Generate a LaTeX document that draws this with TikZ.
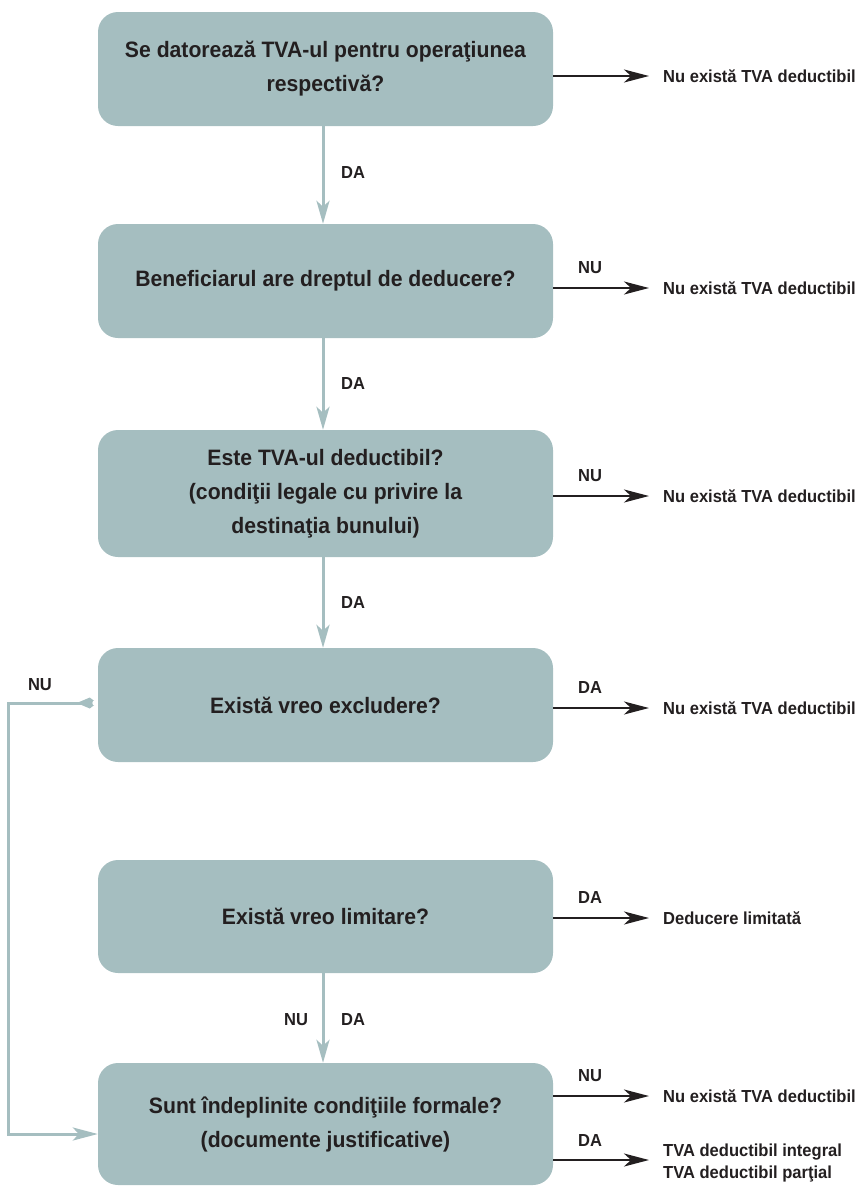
\documentclass[tikz,border=0pt]{standalone}
\usepackage{fontspec}
\setmainfont{Liberation Sans}[FakeStretch=0.95]
\usetikzlibrary{arrows.meta}
\definecolor{boxgray}{HTML}{A5BEC0}
\definecolor{ink}{HTML}{231F20}
\tikzset{
  qbox/.style={fill=boxgray, rounded corners=20pt, minimum width=455pt, inner sep=0pt, align=center, text=ink, font=\bfseries\fontsize{22.3}{34}\selectfont},
  outtxt/.style={anchor=west, inner sep=0pt, text=ink, align=left, font=\bfseries\fontsize{17.4}{22}\selectfont},
  lbl/.style={inner sep=0pt, text=ink, font=\bfseries\fontsize{17.4}{18}\selectfont},
  grayarrow/.style={draw=boxgray, line width=3pt, -{Stealth[length=23pt,width=13pt,inset=6pt]}},
  blackarrow/.style={draw=ink, line width=2.2pt, -{Stealth[length=25pt,width=13pt,inset=7pt]}},
}
\begin{document}
\begin{tikzpicture}[x=1pt,y=-1pt]
\useasboundingbox (0,0) rectangle (857,1189);
% boxes
\node[qbox, minimum height=114pt] (b1) at (325.5,69) {Se datorează TVA-ul pentru operaţiunea\\respectivă?};
\node[qbox, minimum height=114pt] (b2) at (325.5,281) {Beneficiarul are dreptul de deducere?};
\node[qbox, minimum height=127pt] (b3) at (325.5,493.5) {Este TVA-ul deductibil?\\(condiţii legale cu privire la\\destinaţia bunului)};
\node[qbox, minimum height=114pt] (b4) at (325.5,705) {Există vreo excludere?};
\node[qbox, minimum height=113pt] (b5) at (325.5,916.5) {Există vreo limitare?};
\node[qbox, minimum height=122pt] (b6) at (325.5,1124) {Sunt îndeplinite condiţiile formale?\\(documente justificative)};
% right outcomes
\node[outtxt] (o1) at (663,76) {Nu există TVA deductibil};
\node[outtxt] (o2) at (663,288) {Nu există TVA deductibil};
\node[outtxt] (o3) at (663,496) {Nu există TVA deductibil};
\node[outtxt] (o4) at (663,708) {Nu există TVA deductibil};
\node[outtxt] (o5) at (663,918) {Deducere limitată};
\node[outtxt] (o6) at (663,1096) {Nu există TVA deductibil};
\node[outtxt] (o7) at (663,1163) {TVA deductibil integral\\TVA deductibil parţial};
% black arrows
\draw[blackarrow] (b1.east |- o1.west) -- ([xshift=-14pt]o1.west);
\draw[blackarrow] (b2.east |- o2.west) -- ([xshift=-14pt]o2.west);
\draw[blackarrow] (b3.east |- o3.west) -- ([xshift=-14pt]o3.west);
\draw[blackarrow] (b4.east |- o4.west) -- ([xshift=-14pt]o4.west);
\draw[blackarrow] (b5.east |- o5.west) -- ([xshift=-14pt]o5.west);
\draw[blackarrow] (b6.east |- o6.west) -- ([xshift=-14pt]o6.west);
\coordinate (o7a) at (663,1160);
\draw[blackarrow] (b6.east |- o7a) -- ([xshift=-14pt]o7a);
% right labels
\node[lbl] (l2) at (590,268) {NU};
\node[lbl] (l3) at (590,476) {NU};
\node[lbl] (l4) at (590,688) {DA};
\node[lbl] (l5) at (590,898) {DA};
\node[lbl] (l6) at (590,1076) {NU};
\node[lbl] (l7) at (590,1140) {DA};
% vertical gray arrows
\draw[grayarrow] (b1.south -| 323,0) -- (b2.north -| 323,0);
\draw[grayarrow] (b2.south -| 323,0) -- (b3.north -| 323,0);
\draw[grayarrow] (b3.south -| 323,0) -- (b4.north -| 323,0);
\draw[grayarrow] (b5.south -| 323,0) -- (b6.north -| 323,0);
\node[lbl] (d1) at (353,173) {DA};
\node[lbl] (d2) at (353,384) {DA};
\node[lbl] (d3) at (353,603) {DA};
\node[lbl] (d4) at (353,1020) {DA};
\node[lbl] (n4) at (296,1020) {NU};
% left NU loop
\coordinate (c1) at (8,703);
\coordinate (c2) at (8,1134);
\draw[draw=boxgray, line width=3pt, {Kite[length=20pt,width=11pt,inset=13pt]}-{Stealth[length=25pt,width=13pt,inset=6pt]}]
  ([xshift=-1pt]b4.west |- c1) -- (c1) -- (c2) -- (b6.west |- c2);
\fill[white] ([xshift=-3pt]b4.west |- c1) circle (2.5pt);
\node[lbl] (nl) at (40,685) {NU};
\end{tikzpicture}
\end{document}
